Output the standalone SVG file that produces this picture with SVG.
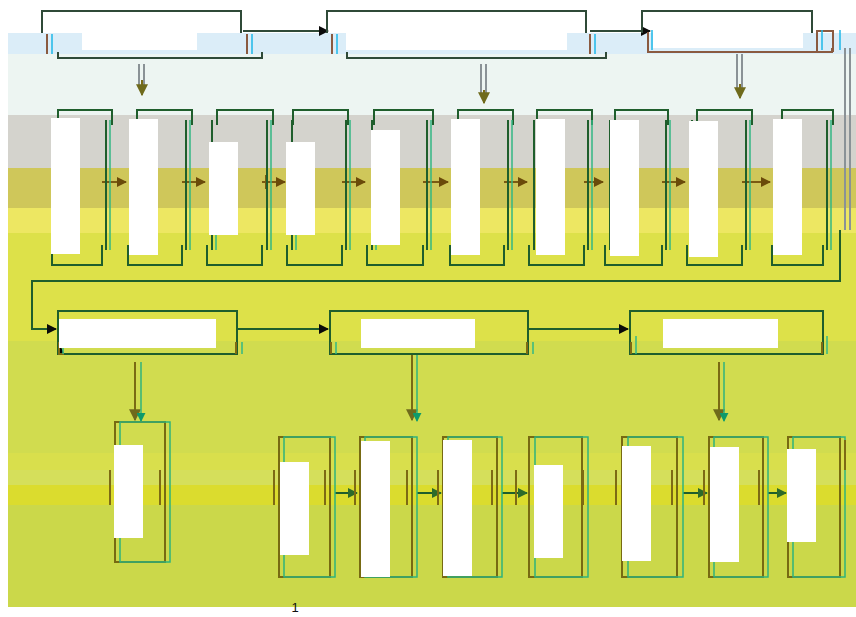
<svg xmlns="http://www.w3.org/2000/svg" width="856" height="617" viewBox="0 0 856 617">
<style>
.frame{fill:none;stroke:#2f4a38;stroke-width:2}
.gbox{fill:none;stroke:#1f5e2c;stroke-width:2}
.side{stroke:#1f5e2c;stroke-width:2}
.sideo{stroke:#7d6a14;stroke-width:2}
.sidet{stroke:#33b884;stroke-width:1.5}
.ob{fill:none;stroke:#776a12;stroke-width:2}
.tb{fill:none;stroke:#2fb37c;stroke-width:1.5}
.mask{fill:#ffffff}
.con{fill:none;stroke:#1f5e2c;stroke-width:2}
.conb{fill:none;stroke:#7a5a12;stroke-width:2}
.dn{fill:none;stroke:#8a9296;stroke-width:2}
.dno{fill:none;stroke:#7a6a14;stroke-width:2}
.dnt{fill:none;stroke:#2fb37c;stroke-width:1.5}
</style>
<defs>
<marker id="ab" viewBox="0 0 10 10" refX="9" refY="5" markerWidth="5" markerHeight="5" orient="auto"><path d="M0,0L10,5L0,10z" fill="#0a0a0a"/></marker>
<marker id="ag" viewBox="0 0 10 10" refX="9" refY="5" markerWidth="5" markerHeight="5" orient="auto"><path d="M0,0L10,5L0,10z" fill="#2d6a2a"/></marker>
<marker id="ao" viewBox="0 0 10 10" refX="9" refY="5" markerWidth="6" markerHeight="6" orient="auto"><path d="M0,0L10,5L0,10z" fill="#6f6a1c"/></marker>
<marker id="at" viewBox="0 0 10 10" refX="9" refY="5" markerWidth="6" markerHeight="6" orient="auto"><path d="M0,0L10,5L0,10z" fill="#0e9a6a"/></marker>
<marker id="abr" viewBox="0 0 10 10" refX="9" refY="5" markerWidth="5" markerHeight="5" orient="auto"><path d="M0,0L10,5L0,10z" fill="#6a4a0a"/></marker>
</defs>
<rect width="856" height="617" fill="#ffffff"/>
<g id="background">
<rect x="8" y="33" width="848" height="21" fill="#dbedf8"/>
<rect x="8" y="54" width="848" height="61" fill="#edf5f2"/>
<rect x="8" y="115" width="848" height="53" fill="#d4d3cd"/>
<rect x="8" y="168" width="848" height="40" fill="#cfc75a"/>
<rect x="8" y="208" width="848" height="25" fill="#ede762"/>
<rect x="8" y="233" width="848" height="108" fill="#dde149"/>
<rect x="8" y="341" width="848" height="112" fill="#d1dc4f"/>
<rect x="8" y="453" width="848" height="17" fill="#d9df4c"/>
<rect x="8" y="470" width="848" height="15" fill="#d5df5b"/>
<rect x="8" y="485" width="848" height="20" fill="#dbdc2e"/>
<rect x="8" y="505" width="848" height="102" fill="#cbd84a"/>
</g>
<g id="connectors">
<path class="frame" d="M243,31H328" marker-end="url(#ab)"/>
<path class="frame" d="M590,31H650" marker-end="url(#ab)"/>
<path class="dn" d="M139,64V88M144,64V88"/>
<path class="dno" d="M142,80V95" marker-end="url(#ao)"/>
<path class="dn" d="M481,64V96M486,64V96"/>
<path class="dno" d="M484,90V103" marker-end="url(#ao)"/>
<path class="dn" d="M737,54V90M742,54V90"/>
<path class="dno" d="M740,84V98" marker-end="url(#ao)"/>
<path class="dn" d="M845,48V230M850,48V230"/>
<path class="con" d="M840,230V281H32V329H56" marker-end="url(#ab)"/>
<path class="conb" d="M106,175V189M186,175V189M266,175V189M346,175V189M427,175V189M508,175V189M588,175V189M666,175V189M746,175V189"/>
<path class="conb" d="M102,182H126" marker-end="url(#abr)"/>
<path class="conb" d="M182,182H205" marker-end="url(#abr)"/>
<path class="conb" d="M262,182H285" marker-end="url(#abr)"/>
<path class="conb" d="M342,182H365" marker-end="url(#abr)"/>
<path class="conb" d="M423,182H448" marker-end="url(#abr)"/>
<path class="conb" d="M504,182H527" marker-end="url(#abr)"/>
<path class="conb" d="M584,182H603" marker-end="url(#abr)"/>
<path class="conb" d="M662,182H685" marker-end="url(#abr)"/>
<path class="conb" d="M742,182H770" marker-end="url(#abr)"/>
<path class="con" d="M237,329H328" marker-end="url(#ab)"/>
<path class="con" d="M528,329H628" marker-end="url(#ab)"/>
<path class="dno" d="M135,362V420" marker-end="url(#ao)"/>
<path class="dnt" d="M141,362V421" marker-end="url(#at)"/>
<path class="dno" d="M412,354V420" marker-end="url(#ao)"/>
<path class="dnt" d="M417,354V421" marker-end="url(#at)"/>
<path class="dno" d="M719,362V420" marker-end="url(#ao)"/>
<path class="dnt" d="M724,362V421" marker-end="url(#at)"/>
<path class="con" d="M335,493H357" marker-end="url(#ag)"/>
<path class="con" d="M417,493H441" marker-end="url(#ag)"/>
<path class="con" d="M502,493H527" marker-end="url(#ag)"/>
<path class="con" d="M683,493H707" marker-end="url(#ag)"/>
<path class="con" d="M768,493H786" marker-end="url(#ag)"/>
</g>
<g id="top-a">
<path class="frame" d="M42,33V11H241V33"/>
<path class="frame" d="M58,52V58H262V52"/>
<path d="M47,34V54M247,34V54" stroke="#8a5a40" stroke-width="2"/>
<path d="M52,34V54M252,34V54" stroke="#1fb8e8" stroke-width="1.5"/>
<rect class="mask" x="82" y="33" width="115" height="17"/>
</g>
<g id="top-b">
<path class="frame" d="M327,33V11H586V33"/>
<path class="frame" d="M347,52V58H606V52"/>
<path d="M332,34V54M590,34V54" stroke="#8a5a40" stroke-width="2"/>
<path d="M337,34V54M595,34V54" stroke="#1fb8e8" stroke-width="1.5"/>
<rect class="mask" x="346" y="33" width="221" height="17"/>
</g>
<g id="top-c">
<path class="frame" d="M642,33V11H812V33"/>
<path d="M648,32V52H832V48" fill="none" stroke="#8a5a40" stroke-width="2"/>
<path d="M817,52V31H833V52" fill="none" stroke="#8a5a40" stroke-width="2"/>
<path d="M652,30V50M822,30V50M840,30V50" stroke="#1fb8e8" stroke-width="1.5"/>
<rect class="mask" x="653" y="30" width="150" height="18"/>
</g>
<g id="r1-1"><path class="gbox" d="M58,125V110H112V125M52,245V265H102V245"/><path class="side" d="M56,120V250M106,120V250"/><path class="sidet" d="M60,200V250M110,120V250"/><rect class="mask" x="51" y="118" width="29" height="136"/></g>
<g id="r1-2"><path class="gbox" d="M137,125V110H192V125M128,245V265H182V245"/><path class="side" d="M133,120V250M186,120V250"/><path class="sidet" d="M138,200V250M190,120V250"/><rect class="mask" x="129" y="119" width="29" height="136"/></g>
<g id="r1-3"><path class="gbox" d="M217,125V110H273V125M207,245V265H262V245"/><path class="side" d="M212,120V250M267,120V250"/><path class="sidet" d="M216,200V250M271,120V250"/><rect class="mask" x="209" y="142" width="29" height="93"/></g>
<g id="r1-4"><path class="gbox" d="M293,125V110H348V125M287,245V265H342V245"/><path class="side" d="M292,120V250M346,120V250"/><path class="sidet" d="M296,200V250M350,120V250"/><rect class="mask" x="286" y="142" width="29" height="93"/></g>
<g id="r1-5"><path class="gbox" d="M374,125V110H433V125M367,245V265H423V245"/><path class="side" d="M372,120V250M427,120V250"/><path class="sidet" d="M376,200V250M431,120V250"/><rect class="mask" x="371" y="130" width="29" height="115"/></g>
<g id="r1-6"><path class="gbox" d="M458,125V110H513V125M450,245V265H504V245"/><path class="side" d="M455,120V250M508,120V250"/><path class="sidet" d="M459,200V250M512,120V250"/><rect class="mask" x="451" y="119" width="29" height="136"/></g>
<g id="r1-7"><path class="gbox" d="M537,125V110H592V125M529,245V265H584V245"/><path class="side" d="M534,120V250M588,120V250"/><path class="sidet" d="M538,200V250M592,120V250"/><rect class="mask" x="536" y="119" width="29" height="136"/></g>
<g id="r1-8"><path class="gbox" d="M615,125V110H668V125M605,245V265H662V245"/><path class="side" d="M610,120V250M666,120V250"/><path class="sidet" d="M614,200V250M670,120V250"/><rect class="mask" x="610" y="120" width="29" height="136"/></g>
<g id="r1-9"><path class="gbox" d="M697,125V110H752V125M687,245V265H742V245"/><path class="side" d="M692,120V250M746,120V250"/><path class="sidet" d="M696,200V250M750,120V250"/><rect class="mask" x="689" y="121" width="29" height="136"/></g>
<g id="r1-10"><path class="gbox" d="M782,125V110H833V125M772,245V265H823V245"/><path class="side" d="M777,120V250M827,120V250"/><path class="sidet" d="M781,200V250M831,120V250"/><rect class="mask" x="773" y="119" width="29" height="136"/></g>
<g id="r2-1"><rect class="gbox" x="58" y="311" width="179" height="43"/><path class="sideo" d="M59,342V354H64M236,342V354"/><path class="sidet" d="M63,342V354M242,342V354"/><rect class="mask" x="59" y="319" width="157" height="29"/></g>
<g id="r2-2"><rect class="gbox" x="330" y="311" width="198" height="43"/><path class="sideo" d="M331,342V354M527,342V354"/><path class="sidet" d="M336,342V354M533,342V354"/><rect class="mask" x="361" y="319" width="114" height="29"/></g>
<g id="r2-3"><rect class="gbox" x="630" y="311" width="193" height="43"/><path class="sideo" d="M631,342V354M822,342V354"/><path class="sidet" d="M636,336V354M827,336V354"/><rect class="mask" x="663" y="319" width="115" height="29"/></g>
<g id="r3-1"><rect class="ob" x="115" y="422" width="50" height="140"/><rect class="tb" x="120" y="422" width="50" height="140"/><path class="sideo" d="M110,470V505M160,470V505"/><rect class="mask" x="114" y="445" width="29" height="93"/></g>
<g id="r3-2"><rect class="ob" x="279" y="437" width="51" height="140"/><rect class="tb" x="284" y="437" width="51" height="140"/><path class="sideo" d="M274,470V505M325,470V505"/><rect class="mask" x="280" y="462" width="29" height="93"/></g>
<g id="r3-3"><rect class="ob" x="360" y="437" width="52" height="140"/><rect class="tb" x="365" y="437" width="52" height="140"/><path class="sideo" d="M355,470V505M407,470V505"/><rect class="mask" x="361" y="441" width="29" height="136"/></g>
<g id="r3-4"><rect class="ob" x="443" y="437" width="54" height="140"/><rect class="tb" x="448" y="437" width="54" height="140"/><path class="sideo" d="M438,470V505M492,470V505"/><rect class="mask" x="443" y="440" width="29" height="136"/></g>
<g id="r3-5"><rect class="ob" x="529" y="437" width="53" height="140"/><rect class="tb" x="535" y="437" width="53" height="140"/><path class="sideo" d="M516,470V505M583,470V505"/><rect class="mask" x="534" y="465" width="29" height="93"/></g>
<g id="r3-6"><rect class="ob" x="622" y="437" width="55" height="140"/><rect class="tb" x="628" y="437" width="55" height="140"/><path class="sideo" d="M616,470V505M672,470V505"/><rect class="mask" x="622" y="446" width="29" height="115"/></g>
<g id="r3-7"><rect class="ob" x="709" y="437" width="54" height="140"/><rect class="tb" x="714" y="437" width="54" height="140"/><path class="sideo" d="M704,470V505M759,470V505"/><rect class="mask" x="710" y="447" width="29" height="115"/></g>
<g id="r3-8"><rect class="ob" x="788" y="437" width="52" height="140"/><rect class="tb" x="793" y="437" width="52" height="140"/><path class="sideo" d="M845,440V470"/><rect class="mask" x="787" y="449" width="29" height="93"/></g>
<text x="295" y="612" font-family="Liberation Sans, Arial, sans-serif" font-size="13" text-anchor="middle" fill="#111111">1</text>
</svg>
